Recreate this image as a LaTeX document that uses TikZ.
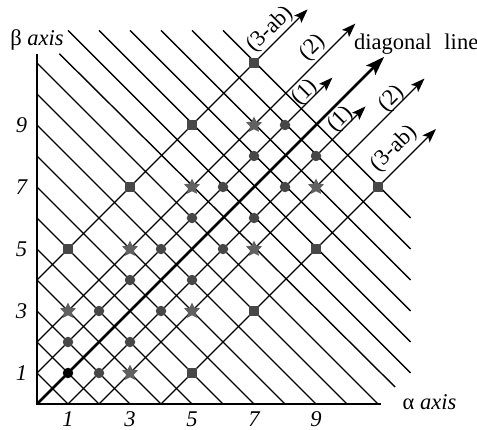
\documentclass[tikz,border=0pt]{standalone}
\usepackage{fontspec}
\setmainfont{Liberation Serif}
\usetikzlibrary{arrows.meta,shapes.geometric}
\begin{document}
\begin{tikzpicture}[x=31pt,y=31pt,
  grid/.style={line width=1.4pt},
  axisline/.style={line width=2pt},
  diag/.style={line width=1.4pt,-{Stealth[length=14pt,width=10pt,inset=3pt]}},
  maindiag/.style={line width=2.6pt,-{Stealth[length=19pt,width=13pt,inset=4pt]}},
  sq/.style={rectangle,fill=black!72,minimum size=10.5pt,inner sep=0pt},
  dot/.style={circle,fill=black!72,minimum size=10.5pt,inner sep=0pt},
  bdot/.style={circle,fill=black,minimum size=10.5pt,inner sep=0pt},
  st/.style={star,star points=5,star point ratio=2.0,fill=black!62,minimum size=17pt,inner sep=0pt},
  lab/.style={font=\fontsize{22.5}{27}\selectfont,inner sep=0pt},
  linelab/.style={lab,rotate=45},
  tick/.style={lab,font=\fontsize{22.5}{27}\selectfont\itshape}
]
\useasboundingbox (-37pt,-25pt) rectangle (440pt,404pt);
% anti-diagonal lines x+y=k
\foreach \k in {1,...,11} \draw[grid] (0,\k) -- (\k,0);
\draw[grid] (0.72,11.3) -- (11.55,0.55);
\foreach \k in {13,...,18} \draw[grid] (\k-12,12.05) -- (12.05,\k-12);
% axes
\draw[axisline] (0,11.3) -- (0,0) -- (11.1,0);
% diagonal lines
\draw[diag] (0,4) -- (8.73,12.73);
\draw[diag] (0,2) -- (10.27,12.27);
\draw[diag] (0,1) -- (9.53,10.53);
\draw[maindiag] (0,0) -- (11.2,11.2);
\draw[diag] (1,0) -- (10.6,9.6);
\draw[diag] (2,0) -- (12.5,10.5);
\draw[diag] (4,0) -- (12.87,8.87);
% markers
\foreach \x/\y [count=\i] in {1/5,3/7,5/9,7/11,5/1,7/3,9/5,11/7}
  \node[sq] (s\i) at (\x,\y) {};
\foreach \x/\y [count=\i] in {1/3,3/5,5/7,7/9,3/1,5/3,7/5,9/7}
  \node[st] (t\i) at (\x,\y) {};
\foreach \x in {1,...,8} {
  \node[dot] (u\x) at (\x,\x+1) {};
  \node[dot] (l\x) at (\x+1,\x) {};
}
\node[bdot] (o) at (1,1) {};
% line labels
\node[linelab] (la1) at (7.52,12.08) {(3-ab)};
\node[linelab] (la2) at (8.9,11.48) {(2)};
\node[linelab] (la3) at (8.65,10.05) {(1)};
\node[linelab] (la4) at (9.8,9.18) {(1)};
\node[linelab] (la5) at (11.44,9.84) {(2)};
\node[linelab] (la6) at (11.52,8.23) {(3-ab)};
% axis labels
\node[lab,anchor=base] (beta) at (0,11.58) {β \textit{axis}};
\node[lab,anchor=base] (alpha) at (12.66,-0.19) {α \textit{axis}};
\node[lab,anchor=base west] (dl) at (10.22,11.42) {diagonal\hspace{13pt}line};
% ticks
\foreach \v in {1,3,5,7,9} {
  \node[tick] (y\v) at (-0.5,\v) {\v};
  \node[tick] (x\v) at (\v,-0.5) {\v};
}
\end{tikzpicture}
\end{document}
